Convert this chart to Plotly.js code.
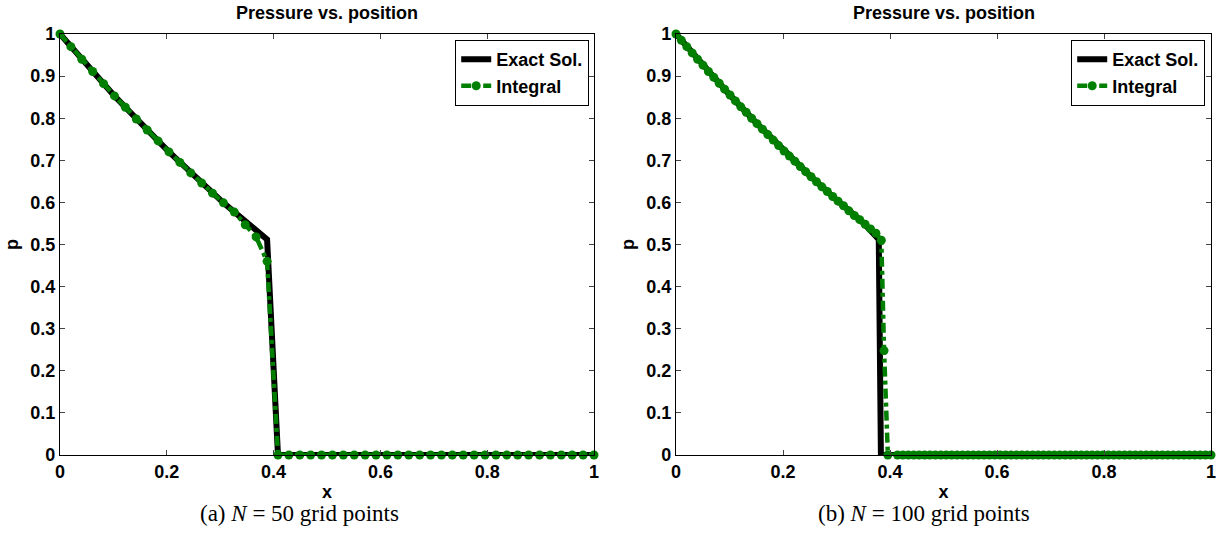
<!DOCTYPE html>
<html>
<head>
<meta charset="utf-8">
<script src="https://cdn.plot.ly/plotly-3.0.1.min.js"></script>
<style>html,body{margin:0;padding:0;background:#fff;}#chart{width:1223px;height:554px;}</style>
</head>
<body>
<div id="chart"></div>
<script>
// ---- Data ----
// (a) N = 50 grid points
const xA = [0, 0.0204, 0.0408, 0.0612, 0.0816, 0.1020, 0.1224, 0.1429, 0.1633, 0.1837,
            0.2041, 0.2245, 0.2449, 0.2653, 0.2857, 0.3061, 0.3265, 0.3469, 0.3673, 0.3878,
            0.4082, 0.4286, 0.4490, 0.4694, 0.4898, 0.5102, 0.5306, 0.5510, 0.5714, 0.5918,
            0.6122, 0.6327, 0.6531, 0.6735, 0.6939, 0.7143, 0.7347, 0.7551, 0.7755, 0.7959,
            0.8163, 0.8367, 0.8571, 0.8776, 0.8980, 0.9184, 0.9388, 0.9592, 0.9796, 1.0];
const exactA = [1.000, 0.970, 0.940, 0.911, 0.882, 0.853, 0.826, 0.798, 0.772, 0.746,
                0.720, 0.695, 0.670, 0.646, 0.622, 0.599, 0.577, 0.555, 0.533, 0.512,
                0, 0, 0, 0, 0, 0, 0, 0, 0, 0,
                0, 0, 0, 0, 0, 0, 0, 0, 0, 0,
                0, 0, 0, 0, 0, 0, 0, 0, 0, 0];
const integralA = [1.000, 0.970, 0.940, 0.911, 0.882, 0.853, 0.826, 0.798, 0.772, 0.746,
                   0.720, 0.695, 0.670, 0.646, 0.622, 0.599, 0.577, 0.547, 0.518, 0.460,
                   0, 0, 0, 0, 0, 0, 0, 0, 0, 0,
                   0, 0, 0, 0, 0, 0, 0, 0, 0, 0,
                   0, 0, 0, 0, 0, 0, 0, 0, 0, 0];

// (b) N = 100 grid points
const xExactB = [0, 0.05, 0.10, 0.15, 0.20, 0.25, 0.30, 0.35, 0.379, 0.383, 1.0];
const exactB  = [1.000, 0.927, 0.856, 0.789, 0.725, 0.664, 0.606, 0.552, 0.512, 0, 0];
const xB = [0, 0.0101, 0.0202, 0.0303, 0.0404, 0.0505, 0.0606, 0.0707, 0.0808, 0.0909,
            0.1010, 0.1111, 0.1212, 0.1313, 0.1414, 0.1515, 0.1616, 0.1717, 0.1818, 0.1919,
            0.2020, 0.2121, 0.2222, 0.2323, 0.2424, 0.2525, 0.2626, 0.2727, 0.2828, 0.2929,
            0.3030, 0.3131, 0.3232, 0.3333, 0.3434, 0.3535, 0.3636, 0.3737, 0.3838, 0.3889,
            0.3960, 0.4141, 0.4242, 0.4343, 0.4444, 0.4545, 0.4646, 0.4747, 0.4848, 0.4949,
            0.5051, 0.5152, 0.5253, 0.5354, 0.5455, 0.5556, 0.5657, 0.5758, 0.5859, 0.5960,
            0.6061, 0.6162, 0.6263, 0.6364, 0.6465, 0.6566, 0.6667, 0.6768, 0.6869, 0.6970,
            0.7071, 0.7172, 0.7273, 0.7374, 0.7475, 0.7576, 0.7677, 0.7778, 0.7879, 0.7980,
            0.8081, 0.8182, 0.8283, 0.8384, 0.8485, 0.8586, 0.8687, 0.8788, 0.8889, 0.8990,
            0.9091, 0.9192, 0.9293, 0.9394, 0.9495, 0.9596, 0.9697, 0.9798, 0.9899, 1.0];
const integralB = [1.000, 0.985, 0.970, 0.955, 0.940, 0.926, 0.911, 0.897, 0.883, 0.869,
                   0.855, 0.841, 0.827, 0.814, 0.800, 0.787, 0.774, 0.761, 0.748, 0.735,
                   0.722, 0.710, 0.698, 0.685, 0.673, 0.661, 0.649, 0.637, 0.626, 0.614,
                   0.603, 0.592, 0.580, 0.569, 0.559, 0.548, 0.537, 0.527, 0.510, 0.248,
                   0, 0, 0, 0, 0, 0, 0, 0, 0, 0,
                   0, 0, 0, 0, 0, 0, 0, 0, 0, 0,
                   0, 0, 0, 0, 0, 0, 0, 0, 0, 0,
                   0, 0, 0, 0, 0, 0, 0, 0, 0, 0,
                   0, 0, 0, 0, 0, 0, 0, 0, 0, 0,
                   0, 0, 0, 0, 0, 0, 0, 0, 0, 0];

const xTickVals = [0, 0.2, 0.4, 0.6, 0.8, 1];
const xTickText = ["0", "0.2", "0.4", "0.6", "0.8", "1"];
const yTickVals = [0, 0.1, 0.2, 0.3, 0.4, 0.5, 0.6, 0.7, 0.8, 0.9, 1];
const yTickText = ["0", "0.1", "0.2", "0.3", "0.4", "0.5", "0.6", "0.7", "0.8", "0.9", "1"];
const seriesNames = ["Exact Sol.", "Integral"];
const plotTitle = "Pressure vs. position";
const captions = ["(a) <i>N</i> = 50 grid points", "(b) <i>N</i> = 100 grid points"];

// ---- Styling ----
const SANS = "Liberation Sans, Arial, sans-serif";
const SERIF = "Liberation Serif, Times New Roman, serif";
const GREEN = "#007f00";
const boldFont = {family: SANS, size: 18, color: "#000", weight: "bold"};
const legendFont = {family: SANS, size: 18, color: "#000", weight: "bold"};

function exactTrace(x, y, xa, ya, lg) {
  return {x: x, y: y, xaxis: xa, yaxis: ya, legend: lg, name: seriesNames[0],
          type: "scatter", mode: "lines", cliponaxis: false,
          line: {color: "#000", width: 6}};
}
function integralTrace(x, y, xa, ya, lg) {
  return {x: x, y: y, xaxis: xa, yaxis: ya, legend: lg, name: seriesNames[1],
          type: "scatter", mode: "lines+markers", cliponaxis: false,
          line: {color: GREEN, width: 4.5, dash: "10px,4px,4px,4px"},
          marker: {color: GREEN, size: 9, symbol: "circle"}};
}

const data = [
  exactTrace(xA, exactA, "x", "y", "legend"),
  integralTrace(xA, integralA, "x", "y", "legend"),
  exactTrace(xExactB, exactB, "x2", "y2", "legend2"),
  integralTrace(xB, integralB, "x2", "y2", "legend2")
];

const W = 1223;
const dA = [60 / W, 594 / W];
const dB = [676 / W, 1211 / W];

function xAxis(domain, anchor) {
  return {domain: domain, anchor: anchor, range: [0, 1], tickvals: xTickVals, ticktext: xTickText,
          ticks: "inside", ticklen: 5, tickcolor: "#444", showline: true, linecolor: "#000", linewidth: 1.2,
          mirror: "ticks", showgrid: false, zeroline: false, tickfont: boldFont,
          title: {text: "x", font: boldFont, standoff: 4}, fixedrange: true};
}
function yAxis(anchor) {
  return {domain: [0, 1], anchor: anchor, range: [0, 1], tickvals: yTickVals, ticktext: yTickText,
          ticks: "inside", ticklen: 5, tickcolor: "#444", showline: true, linecolor: "#000", linewidth: 1.2,
          mirror: "ticks", showgrid: false, zeroline: false, tickfont: boldFont,
          title: {text: "p", font: boldFont, standoff: 6}, fixedrange: true};
}

function legendCfg(xRight) {
  return {x: xRight, xanchor: "right", y: 0.986, yanchor: "top", xref: "paper", yref: "paper",
          bgcolor: "#fff", bordercolor: "#000", borderwidth: 1.2, font: legendFont,
          tracegroupgap: 0, itemwidth: 30};
}

const layout = {
  width: 1223, height: 554,
  margin: {l: 0, r: 0, t: 34, b: 99},
  paper_bgcolor: "#fff", plot_bgcolor: "#fff",
  showlegend: true,
  xaxis: xAxis(dA, "y"),
  yaxis: yAxis("x"),
  xaxis2: xAxis(dB, "y2"),
  yaxis2: yAxis("x2"),
  legend: legendCfg(589 / W),
  legend2: legendCfg(1205 / W),
  annotations: [
    {text: "<b>" + plotTitle + "</b>", x: (dA[0] + dA[1]) / 2, y: 1 + 21 / 421, xref: "paper", yref: "paper",
     showarrow: false, xanchor: "center", yanchor: "middle", font: {family: SANS, size: 18, color: "#000"}},
    {text: "<b>" + plotTitle + "</b>", x: (dB[0] + dB[1]) / 2, y: 1 + 21 / 421, xref: "paper", yref: "paper",
     showarrow: false, xanchor: "center", yanchor: "middle", font: {family: SANS, size: 18, color: "#000"}},
    {text: captions[0], x: 198 / W, y: -58 / 421, xref: "paper", yref: "paper",
     showarrow: false, xanchor: "left", yanchor: "middle", font: {family: SERIF, size: 23, color: "#000"}},
    {text: captions[1], x: 1032 / W, y: -58 / 421, xref: "paper", yref: "paper",
     showarrow: false, xanchor: "right", yanchor: "middle", font: {family: SERIF, size: 23, color: "#000"}}
  ]
};

Plotly.newPlot("chart", data, layout, {staticPlot: true, displayModeBar: false});
</script>
</body>
</html>
